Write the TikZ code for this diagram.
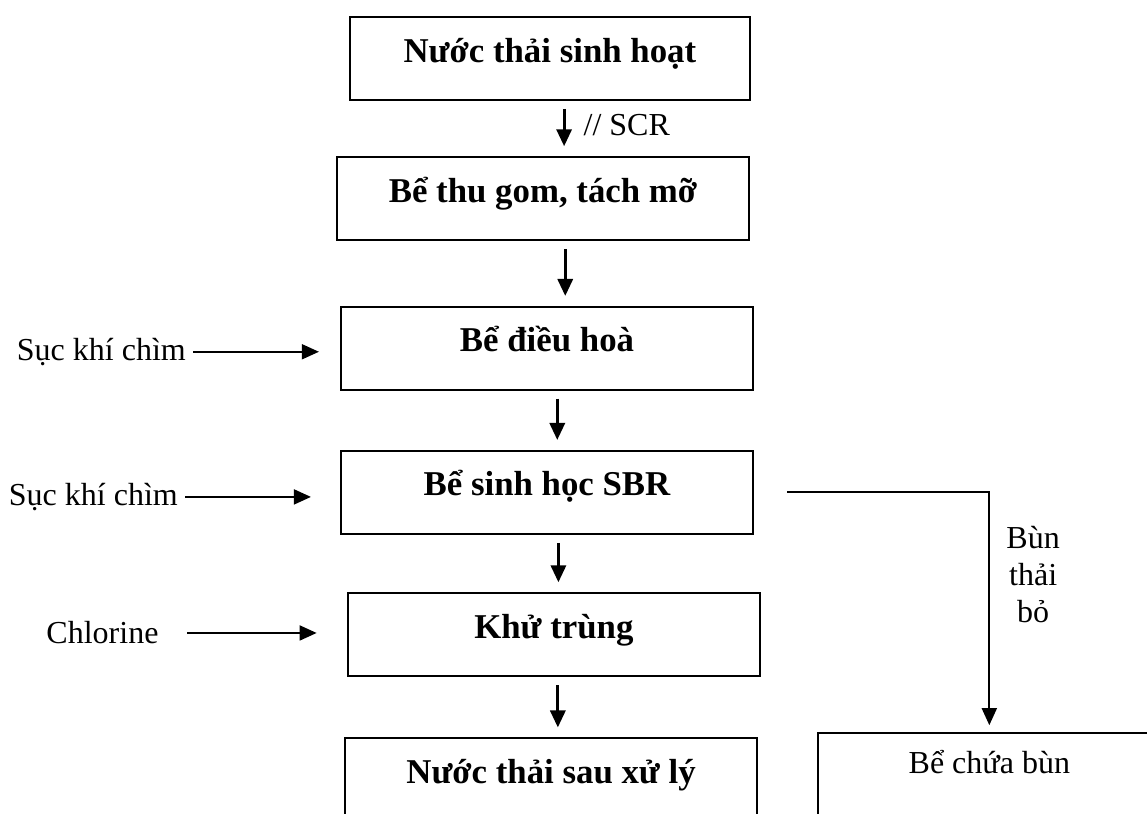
\documentclass[tikz,border=0pt]{standalone}
\usepackage{fontspec}
\setmainfont{Liberation Serif}
\usetikzlibrary{arrows.meta}

\begin{document}
\begin{tikzpicture}[>={Triangle[length=8.5pt,width=7.5pt]}, line width=0.9pt,
  caja/.style={draw, line width=1pt, anchor=north, minimum width=7.24cm, minimum height=1.46cm,
    font=\fontsize{17.4}{21}\selectfont\bfseries, text height=12pt, text depth=8.4pt},
  rotulo/.style={font=\fontsize{16}{18.5}\selectfont},
  bajada/.style={->, line width=1.6pt, shorten <=0.14cm, shorten >=0.17cm},
  entrada/.style={->, line width=0.9pt}]
  % marco: 1147 x 814 px, 1 px = 0.01757 cm
  \useasboundingbox (0,0) rectangle (20.15,14.30);
  % cajas de la linea principal (ancla arriba)
  \node[caja, minimum width=7.03cm] (b1) at (9.66,14.02) {Nước thải sinh hoạt};
  \node[caja] (b2) at (9.54,11.56) {Bể thu gom, tách mỡ};
  \node[caja] (b3) at (9.61,8.93) {Bể điều hoà};
  \node[caja] (b4) at (9.61,6.40) {Bể sinh học SBR};
  \node[caja] (b5) at (9.73,3.90) {Khử trùng};
  \node[caja] (b6) at (9.68,1.35) {Nước thải sau xử lý};
  \node[caja, minimum width=6.01cm, font=\fontsize{16}{18.5}\selectfont,
    text height=11pt, text depth=11.9pt] (bun) at (17.38,1.44) {Bể chứa bùn};
  % flechas de bajada
  \draw[bajada] ([xshift=0.25cm]b1.south) -- ([xshift=0.25cm]b1.south |- b2.north);
  \draw[bajada] ([xshift=0.39cm]b2.south) -- ([xshift=0.39cm]b2.south |- b3.north);
  \draw[bajada] ([xshift=0.18cm]b3.south) -- ([xshift=0.18cm]b3.south |- b4.north);
  \draw[bajada] ([xshift=0.20cm]b4.south) -- ([xshift=0.20cm]b4.south |- b5.north);
  \draw[bajada] ([xshift=0.07cm]b5.south) -- ([xshift=0.07cm]b5.south |- b6.north);
  \node[rotulo, anchor=west] (scr) at (10.12,12.11) {// SCR};
  % entradas laterales
  \node[rotulo] (aire1) at (1.78,8.12) {Sục khí chìm};
  \node[rotulo] (aire2) at (1.64,5.57) {Sục khí chìm};
  \node[rotulo] (cloro) at (1.80,3.18) {Chlorine};
  \draw[entrada, shorten >=0.37cm] (aire1.east) -- (aire1.east -| b3.west);
  \draw[entrada, shorten >=0.51cm] (aire2.east) -- (aire2.east -| b4.west);
  \draw[entrada, shorten <=0.37cm, shorten >=0.53cm] (cloro.east) -- (cloro.east -| b5.west);
  % lodo de purga
  \draw[entrada, shorten <=0.58cm, shorten >=0.12cm] (b4.east) -| (bun.north);
  \node[rotulo, align=center] (purga) at (18.15,4.20) {Bùn\\thải\\bỏ};
\end{tikzpicture}
\end{document}
